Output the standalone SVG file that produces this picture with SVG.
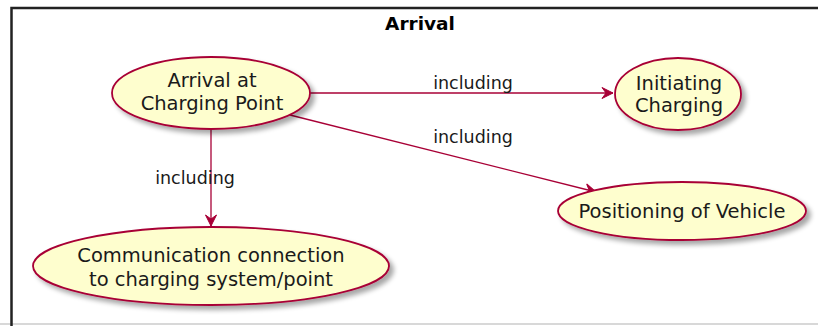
<svg xmlns="http://www.w3.org/2000/svg" width="818" height="326" viewBox="0 0 818 326">
  <defs>
    <filter id="shadow" x="-20%" y="-20%" width="140%" height="150%">
      <feGaussianBlur in="SourceAlpha" stdDeviation="2.5"/>
      <feOffset dx="4" dy="4" result="blur"/>
      <feComponentTransfer><feFuncA type="linear" slope="0.35"/></feComponentTransfer>
      <feMerge><feMergeNode/><feMergeNode in="SourceGraphic"/></feMerge>
    </filter>
    <marker id="arrow" markerUnits="userSpaceOnUse" markerWidth="14" markerHeight="14" viewBox="-12 -7 14 14" refX="0" refY="0" orient="auto">
      <path d="M0,0 L-11,-5.5 L-7,0 L-11,5.5 Z" fill="#A80036" stroke="#A80036" stroke-width="1"/>
    </marker>
  </defs>
  <style>
    .uc { fill: #FEFECE; stroke: #A80036; stroke-width: 1.8; }
    .lbl { font-family: "DejaVu Sans", "Liberation Sans", sans-serif; font-size: 19.5px; fill: #1a1a1a; text-anchor: middle; }
    .edge { stroke: #A80036; stroke-width: 1.3; fill: none; marker-end: url(#arrow); }
    .elbl { font-family: "DejaVu Sans", "Liberation Sans", sans-serif; font-size: 17.5px; fill: #1a1a1a; text-anchor: middle; }
    .title { font-family: "DejaVu Sans", "Liberation Sans", sans-serif; font-size: 18.5px; font-weight: bold; fill: #000; text-anchor: middle; }
  </style>
  <rect width="818" height="326" fill="#FFFFFF"/>

  <!-- package frame -->
  <g id="frame">
    <line x1="0" y1="324" x2="818" y2="324" stroke="#D8D8D8" stroke-width="2"/>
    <path d="M11.5,326 L11.5,8 L818,8" fill="none" stroke="#222" stroke-width="2.5"/>
    <text class="title" x="420" y="30">Arrival</text>
  </g>

  <g id="connectors">
    <line class="edge" x1="310" y1="93" x2="613" y2="93"/>
    <text class="elbl" x="473" y="89">including</text>
    <line class="edge" x1="290" y1="115" x2="596" y2="192"/>
    <text class="elbl" x="473" y="143">including</text>
    <line class="edge" x1="211" y1="130" x2="211" y2="226"/>
    <text class="elbl" x="195" y="184">including</text>
  </g>

  <g id="arrival">
    <ellipse class="uc" cx="211" cy="93" rx="99" ry="36" filter="url(#shadow)"/>
    <text class="lbl" x="212" y="87">Arrival at</text>
    <text class="lbl" x="212" y="110">Charging Point</text>
  </g>

  <g id="initiating">
    <ellipse class="uc" cx="678" cy="94" rx="63" ry="36" filter="url(#shadow)"/>
    <text class="lbl" x="679" y="90">Initiating</text>
    <text class="lbl" x="679" y="112">Charging</text>
  </g>

  <g id="positioning">
    <ellipse class="uc" cx="682" cy="211" rx="124" ry="29" filter="url(#shadow)"/>
    <text class="lbl" x="682" y="217.5">Positioning of Vehicle</text>
  </g>

  <g id="communication">
    <ellipse class="uc" cx="211" cy="266" rx="178" ry="39" filter="url(#shadow)"/>
    <text class="lbl" x="211" y="261.5">Communication connection</text>
    <text class="lbl" x="211" y="285.5">to charging system/point</text>
  </g>
</svg>
